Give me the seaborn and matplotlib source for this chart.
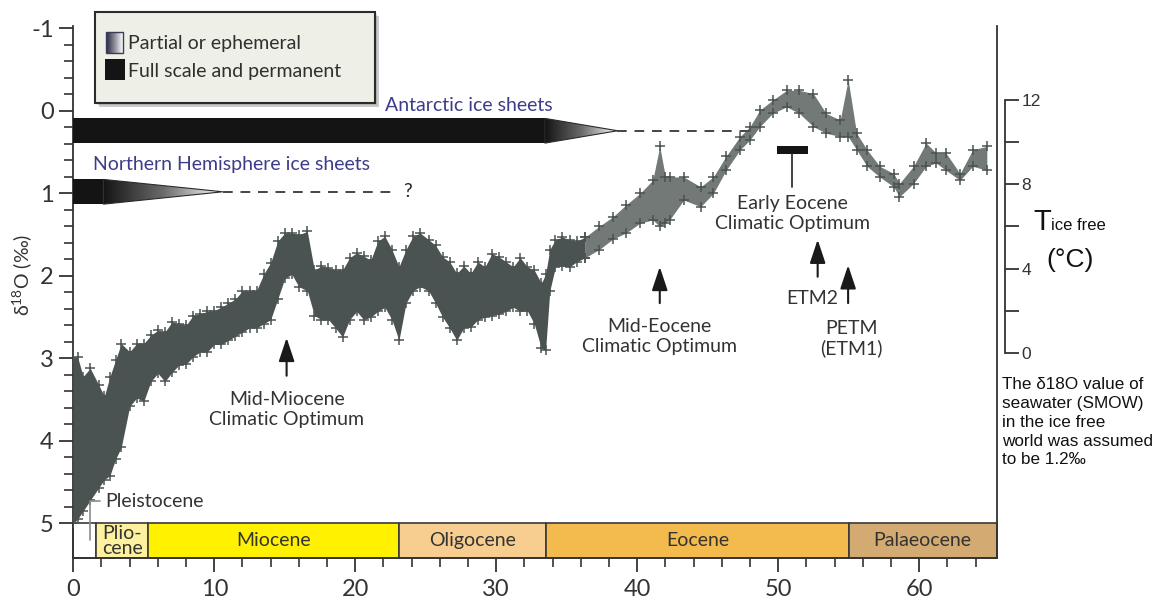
import numpy as np
import matplotlib
matplotlib.use("Agg")
import matplotlib.pyplot as plt
import seaborn as sns
from matplotlib.patches import Rectangle, Polygon
from matplotlib.colors import LinearSegmentedColormap

# ---------------- data ----------------
# dense part of the benthic d18O record: age (Myr), upper edge, lower edge of the cloud
age_dense = [0.0, 0.3, 0.7, 1.2, 1.8, 2.2, 2.6, 3.0, 3.4, 4.0, 4.5, 5.0, 5.5, 6.0, 6.5,
             7.0, 7.5, 8.0, 8.5, 9.0, 9.5, 10.0, 10.5, 11.0, 11.5, 12.0, 12.5, 13.0, 13.5,
             14.0, 14.5, 15.0, 15.5, 16.0, 16.6, 17.1, 17.6, 18.1, 18.6, 19.1, 19.6, 20.1,
             20.6, 21.1, 21.6, 22.1, 22.6, 23.1, 23.6, 24.1, 24.6, 25.2, 25.7, 26.2, 26.7,
             27.2, 27.7, 28.2, 28.7, 29.2, 29.7, 30.2, 30.7, 31.2, 31.7, 32.2, 32.7, 33.2,
             33.5, 33.8, 34.2, 34.7, 35.2, 35.7, 36.3]
top_dense = [3.00, 2.98, 3.22, 3.12, 3.32, 3.46, 3.22, 3.02, 2.82, 2.92, 2.82, 2.82, 2.72,
             2.66, 2.68, 2.56, 2.58, 2.60, 2.48, 2.46, 2.43, 2.42, 2.38, 2.33, 2.28, 2.18,
             2.18, 2.18, 1.98, 1.84, 1.58, 1.48, 1.48, 1.50, 1.46, 1.93, 1.88, 1.90, 1.93,
             1.93, 1.78, 1.72, 1.76, 1.81, 1.58, 1.52, 1.68, 1.89, 1.68, 1.52, 1.48, 1.56,
             1.63, 1.77, 1.83, 1.97, 1.88, 1.97, 1.83, 1.89, 1.73, 1.77, 1.83, 1.89, 1.78,
             1.89, 1.93, 2.09, 1.98, 1.68, 1.56, 1.53, 1.56, 1.58, 1.53]
bot_dense = [5.00, 4.95, 4.85, 4.72, 4.57, 4.47, 4.42, 4.22, 4.08, 3.58, 3.48, 3.52, 3.28,
             3.18, 3.28, 3.17, 3.08, 3.07, 2.98, 2.92, 2.92, 2.83, 2.83, 2.78, 2.73, 2.68,
             2.63, 2.63, 2.58, 2.53, 2.28, 2.03, 1.98, 2.13, 2.18, 2.48, 2.53, 2.53, 2.63,
             2.74, 2.53, 2.43, 2.53, 2.50, 2.43, 2.38, 2.53, 2.78, 2.33, 2.18, 2.13, 2.18,
             2.33, 2.50, 2.63, 2.78, 2.63, 2.62, 2.53, 2.50, 2.48, 2.46, 2.43, 2.38, 2.43,
             2.42, 2.58, 2.88, 2.90, 2.18, 1.89, 1.88, 1.89, 1.83, 1.78]
# sparser (Eocene / Palaeocene) part of the record
age_sparse = [36.3, 37.3, 38.3, 39.2, 40.2, 41.1, 41.6, 42.0, 42.3, 43.3, 44.5,
              45.4, 46.3, 47.3, 48.0, 48.7, 49.6, 50.6, 51.5, 52.5, 53.4, 54.4, 54.96,
              55.56, 56.3, 57.2, 58.2, 58.6, 59.6, 60.5, 61.2, 61.9, 62.9, 63.8, 64.8]
top_sparse = [1.53, 1.40, 1.28, 1.14, 1.00, 0.84, 0.43, 0.80, 0.80, 0.80, 0.92,
              0.80, 0.55, 0.31, 0.19, -0.01, -0.13, -0.25, -0.25, -0.21, 0.03, 0.11, -0.38,
              0.27, 0.47, 0.67, 0.76, 0.88, 0.67, 0.39, 0.51, 0.51, 0.76, 0.47, 0.43]
bot_sparse = [1.78, 1.68, 1.55, 1.48, 1.36, 1.32, 1.40, 1.36, 1.32, 1.08, 1.16,
              1.00, 0.72, 0.47, 0.35, 0.19, 0.03, -0.05, 0.03, 0.19, 0.27, 0.31, 0.31,
              0.47, 0.67, 0.80, 0.92, 1.04, 0.88, 0.67, 0.63, 0.72, 0.84, 0.67, 0.72]

# geological epochs
epoch_labels = ["", "Plio-\ncene", "Miocene", "Oligocene", "Eocene", "Palaeocene"]
epoch_start = [0.0, 1.6, 5.33, 23.1, 33.55, 55.0]
epoch_end = [1.6, 5.33, 23.1, 33.55, 55.0, 65.5]
epoch_colors = ["#ffffff", "#fdf19f", "#fff100", "#f7ce90", "#f3bb4e", "#d3aa72"]

# ice sheets: full until, fade until, dash until, top, bottom
ant_full, ant_fade, ant_dash, ant_top, ant_bot = 33.45, 38.6, 48.0, 0.09, 0.39
nh_full, nh_fade, nh_dash, nh_top, nh_bot = 2.13, 10.6, 22.7, 0.83, 1.13

# climatic events (arrows): age, arrow tip, arrow tail
event_age = [15.13, 41.6, 52.8, 54.96]
event_tip = [2.75, 1.89, 1.56, 1.87]
event_tail = [3.21, 2.33, 2.01, 2.33]
event_text = ["Mid-Miocene\nClimatic Optimum", "Mid-Eocene\nClimatic Optimum", "ETM2", "PETM\n(ETM1)"]
event_text_x = [15.15, 41.6, 52.4, 55.2]
event_text_y = [3.62, 2.73, 2.27, 2.76]

eeco_start, eeco_end, eeco_top, eeco_bot = 49.9, 52.1, 0.42, 0.52

x_ticks = [0, 10, 20, 30, 40, 50, 60]
y_ticks = [-1, 0, 1, 2, 3, 4, 5]
y_tick_labels = ["-1", "0", "1", "2", "3", "4", "5"]
temp_ticks = [0, 4, 8, 12]
temp_minor = [2, 6, 10]

# ---------------- style ----------------
sns.set_theme(style="white")
plt.rcParams["font.family"] = ["Lato", "DejaVu Sans"]
plt.rcParams["mathtext.fontset"] = "custom"
plt.rcParams["mathtext.rm"] = "Lato"
plt.rcParams["mathtext.it"] = "Lato:italic"

DATA = "#4a5351"
TXT = "#333333"
BLUE = "#3c3c8a"
W, H = 1163, 601

fig = plt.figure(figsize=(W / 100, H / 100), dpi=100)
fig.patch.set_facecolor("white")
ax = fig.add_axes([73.3 / W, 1 - 558 / H, (996.7 - 73.3) / W, (558 - 26) / H])
ax.set_facecolor("none")

# data cloud
ax.fill_between(age_dense, top_dense, bot_dense, color=DATA, lw=0, zorder=3)
sns.scatterplot(x=age_dense + age_dense, y=top_dense + bot_dense, marker="+", s=60,
                color=DATA, linewidth=1.1, ax=ax, zorder=3, legend=False)
ax.fill_between(age_sparse, top_sparse, bot_sparse, color=DATA, alpha=0.78, lw=0, zorder=3)
sns.scatterplot(x=age_sparse + age_sparse, y=top_sparse + bot_sparse, marker="+", s=60,
                color=DATA, linewidth=1.1, ax=ax, zorder=3, legend=False)

# epoch bar
for s, e, c, lab in zip(epoch_start, epoch_end, epoch_colors, epoch_labels):
    ax.add_patch(Rectangle((s, 5.0), e - s, 0.42, fc=c, ec="#3a3a3a", lw=1.2,
                           zorder=2, clip_on=False))
    if lab:
        ax.text((s + e) / 2, 5.21, lab, ha="center", va="center", fontsize=14,
                color=TXT, linespacing=0.85, zorder=4)
ax.plot([1.18, 1.18, 1.89], [5.2, 4.73, 4.73], color="#8a8a8a", lw=1.2, zorder=4)
ax.text(2.25, 4.73, "Pleistocene", ha="left", va="center", fontsize=14, color=TXT)

# ice sheets
grad_cmap = LinearSegmentedColormap.from_list("g", ["#141414", "#6a6a6a", "#ffffff"])
grad = np.linspace(0, 1, 256)[None, :]
for full, fade, dash, t, b in [(ant_full, ant_fade, ant_dash, ant_top, ant_bot),
                               (nh_full, nh_fade, nh_dash, nh_top, nh_bot)]:
    ax.add_patch(Rectangle((0, t), full, b - t, fc="#141414", ec="none", zorder=4))
    mid = (t + b) / 2
    tri = Polygon([(full, t), (full, b), (fade, mid)], closed=True, fc="none",
                  ec="#2a2a2a", lw=0.8, zorder=5)
    ax.add_patch(tri)
    im = ax.imshow(grad, extent=(full, fade, b, t), cmap=grad_cmap, aspect="auto", zorder=4)
    im.set_clip_path(tri)
    ax.plot([fade, dash], [mid, mid], color="#444444", lw=1.4, ls=(0, (5, 4)), zorder=2)
ax.text(nh_dash + 1.0, (nh_top + nh_bot) / 2, "?", ha="center", va="center", fontsize=14,
        color="#222222")
ax.text(22.1, -0.07, "Antarctic ice sheets", ha="left", va="center", fontsize=14, color=BLUE)
ax.text(1.42, 0.65, "Northern Hemisphere ice sheets", ha="left", va="center",
        fontsize=14, color=BLUE)

# early Eocene climatic optimum bar
ax.add_patch(Rectangle((eeco_start, eeco_top), eeco_end - eeco_start, eeco_bot - eeco_top,
                       fc="#141414", ec="none", zorder=4))
ax.plot([50.95, 50.95], [eeco_bot, 0.92], color="#333333", lw=1.3, zorder=4)
ax.text(51.0, 1.24, "Early Eocene\nClimatic Optimum", ha="center", va="center",
        fontsize=14, color=TXT)

# event arrows
for a, tip, tail, txt, tx, ty in zip(event_age, event_tip, event_tail, event_text,
                                     event_text_x, event_text_y):
    ax.annotate("", xy=(a, tip), xytext=(a, tail),
                arrowprops=dict(arrowstyle="-|>,head_length=0.72,head_width=0.24",
                                mutation_scale=20, color="#1a1a1a", lw=1.5,
                                shrinkA=0, shrinkB=0), zorder=5)
    ax.text(tx, ty, txt, ha="center", va="center", fontsize=14, color=TXT)

ax.set_xlim(0, 65.5)
ax.set_ylim(5.42, -1.03)
ax.set_aspect("auto")

ax.set_xticks(x_ticks)
ax.set_xticks(np.arange(0, 65, 2), minor=True)
ax.set_yticks(y_ticks, labels=y_tick_labels)
ax.set_yticks(np.arange(-1, 5.01, 0.2), minor=True)
ax.tick_params(axis="both", which="major", length=10, width=1.3, color=TXT,
               labelsize=17, labelcolor=TXT, direction="out")
ax.tick_params(axis="both", which="minor", length=6.5, width=1.2, color=TXT,
               direction="out")
ax.tick_params(axis="x", which="major", pad=5)
ax.tick_params(axis="y", which="major", pad=4)
ax.tick_params(left=True, bottom=True, which="both")
ax.spines["top"].set_visible(False)
for s in ["left", "right", "bottom"]:
    ax.spines[s].set_color(TXT)
    ax.spines[s].set_linewidth(1.3)
ax.set_xlabel("")
ax.set_ylabel("")

# temperature axis
ax2 = fig.add_axes([(1005 - 40) / W, 1 - 558 / H, 40 / W, (558 - 26) / H])
ax2.set_ylim(-9.73, 15.51)
ax2.patch.set_visible(False)
for s in ["top", "bottom", "left"]:
    ax2.spines[s].set_visible(False)
ax2.spines["right"].set_bounds(0, 12)
ax2.spines["right"].set_color(TXT)
ax2.spines["right"].set_linewidth(1.3)
ax2.yaxis.tick_right()
ax2.set_yticks(temp_ticks)
ax2.set_yticks(temp_minor, minor=True)
ax2.set_xticks([])
ax2.tick_params(axis="y", which="both", length=10, width=1.3, color=TXT, direction="out",
                labelsize=12.5, labelcolor=TXT, pad=2)
for lab in ax2.get_yticklabels():
    lab.set_family("Liberation Sans")

# overlay in pixel coordinates for legend and side texts
lax = fig.add_axes([0, 0, 1, 1])
lax.axis("off")
lax.patch.set_visible(False)
lax.add_patch(Rectangle((99, 16), 280, 91, fc="#8c8c8c", alpha=0.45, lw=0))
lax.add_patch(Rectangle((97, 14), 280, 91, fc="#8c8c8c", alpha=0.35, lw=0))
lax.add_patch(Rectangle((95, 12), 280, 91, fc="#eef0e7", ec="#2b2b2b", lw=1.5))
leg_cmap = LinearSegmentedColormap.from_list("lg", ["#26263a", "#8a8a98", "#ffffff"])
lax.imshow(grad, extent=(106, 122.7, 52.7, 31.7), cmap=leg_cmap, aspect="auto", zorder=3)
lax.add_patch(Rectangle((106, 31.7), 16.7, 21, fc="none", ec="#3a3a5a", lw=1, zorder=4))
lax.add_patch(Rectangle((104.5, 58.5), 20, 21.5, fc="#141414", lw=0, zorder=4))
lax.text(128, 43, "Partial or ephemeral", va="center", ha="left", fontsize=14, color="#2f2f2f")
lax.text(128, 72, "Full scale and permanent", va="center", ha="left", fontsize=14,
         color="#2f2f2f")

lax.text(22, 275, "δ$^{18}$O (‰)", rotation=90, ha="center", va="center", fontsize=14,
         color=TXT)

lax.text(1033, 230, "T", ha="left", va="baseline", fontsize=21, color="#111111",
         family="Liberation Sans")
lax.text(1051, 230, "ice free", ha="left", va="baseline", fontsize=12, color="#111111",
         family="Liberation Sans")
lax.text(1070, 260, "(°C)", ha="center", va="center", fontsize=19, color="#111111",
         family="Liberation Sans")
lax.text(1002, 377, "The δ18O value of\nseawater (SMOW)\nin the ice free\nworld was assumed\nto be 1.2‰",
         ha="left", va="top", fontsize=12.3, color="#111111", linespacing=1.32,
         family=["Liberation Sans", "DejaVu Sans"])
lax.set_xlim(0, W)
lax.set_ylim(H, 0)

fig.savefig("out.png", dpi=100, facecolor="white")
